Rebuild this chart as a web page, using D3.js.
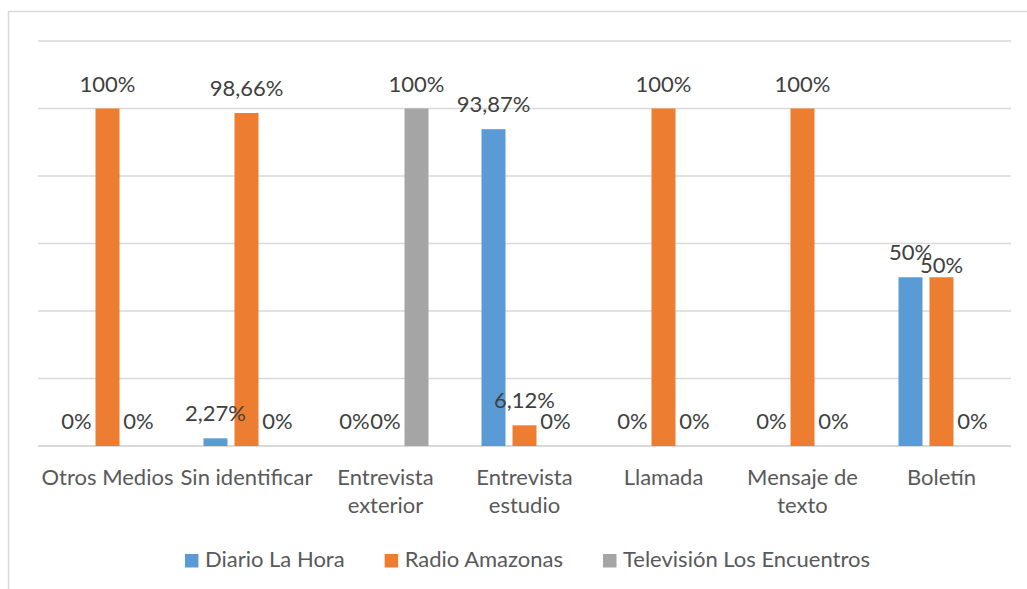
<!DOCTYPE html>
<html lang="es">
<head>
    <meta charset="UTF-8">
    <title>Medios por tipo de fuente</title>
    <script src="https://d3js.org/d3.v7.min.js"></script>
    <style>
        body {
            margin: 0;
            padding: 0;
            background-color: #ffffff;
            font-family: Lato, "Open Sans", sans-serif;
        }
        svg text {
            font-family: Lato, "Open Sans", sans-serif;
        }
    </style>
</head>
<body>
    <svg id="chart" width="1027" height="589"></svg>

    <script>
        // chart data
        const categories = ["Otros Medios", "Sin identificar", "Entrevista exterior", "Entrevista estudio", "Llamada", "Mensaje de texto", "Boletín"];
        const tickLabels = [["Otros Medios"], ["Sin identificar"], ["Entrevista", "exterior"], ["Entrevista", "estudio"], ["Llamada"], ["Mensaje de", "texto"], ["Boletín"]];
        const seriesNames = ["Diario La Hora", "Radio Amazonas", "Televisión Los Encuentros"];
        const diarioLaHora = [0, 2.27, 0, 93.87, 0, 0, 50];
        const radioAmazonas = [100, 98.66, 0, 6.12, 100, 100, 50];
        const televisionEncuentros = [0, 0, 100, 0, 0, 0, 0];
        const valueLabels = [
            ["0%", "2,27%", "0%", "93,87%", "0%", "0%", "50%"],
            ["100%", "98,66%", "0%", "6,12%", "100%", "100%", "50%"],
            ["0%", "0%", "100%", "0%", "0%", "0%", "0%"]
        ];
        const yTicks = [0, 20, 40, 60, 80, 100, 120];

        const colors = ["#5b9bd5", "#ed7d31", "#a5a5a5"];
        const seriesValues = [diarioLaHora, radioAmazonas, televisionEncuentros];

        const svg = d3.select("#chart");
        const plot = { left: 38, right: 1011, top: 41, bottom: 446 };
        const fontSize = "22px";

        // outer chart frame (cut off on the right and bottom)
        svg.append("rect")
            .attr("x", 8.5).attr("y", 11.5)
            .attr("width", 1100).attr("height", 700)
            .attr("fill", "none")
            .attr("stroke", "#d9d9d9")
            .attr("stroke-width", 1.5);

        const x0 = d3.scaleBand()
            .domain(categories)
            .range([plot.left, plot.right]);

        const y = d3.scaleLinear()
            .domain([0, 120])
            .range([plot.bottom, plot.top]);

        // bars sit inside a 93px wide group centred on each category
        const groupWidth = 93;
        const x1 = d3.scaleBand()
            .domain(seriesNames)
            .range([0, groupWidth])
            .paddingInner(0.226)
            .paddingOuter(0.113);

        // gridlines
        svg.append("g")
            .selectAll("line")
            .data(yTicks)
            .join("line")
            .attr("x1", plot.left)
            .attr("x2", plot.right)
            .attr("y1", d => y(d))
            .attr("y2", d => y(d))
            .attr("stroke", "#d9d9d9")
            .attr("stroke-width", d => d === 0 ? 2 : 1.5);

        const cx = c => x0(c) + x0.bandwidth() / 2 - groupWidth / 2;

        // bars
        const rows = [];
        categories.forEach((c, i) => {
            seriesNames.forEach((s, j) => {
                rows.push({ cat: c, series: s, si: j, ci: i, value: seriesValues[j][i], label: valueLabels[j][i] });
            });
        });

        svg.append("g")
            .selectAll("rect")
            .data(rows.filter(d => d.value > 0))
            .join("rect")
            .attr("x", d => cx(d.cat) + x1(d.series))
            .attr("y", d => y(d.value))
            .attr("width", x1.bandwidth())
            .attr("height", d => y(0) - y(d.value))
            .attr("fill", d => colors[d.si]);

        // data labels (Excel nudged the second Boletín label down to avoid overlap)
        const nudge = (d) => (d.cat === "Boletín" && d.si === 1) ? 13 : 0;

        svg.append("g")
            .selectAll("text")
            .data(rows)
            .join("text")
            .attr("x", d => cx(d.cat) + x1(d.series) + x1.bandwidth() / 2)
            .attr("y", d => y(d.value) - 17 + nudge(d))
            .attr("text-anchor", "middle")
            .attr("fill", "#404040")
            .style("font-size", fontSize)
            .text(d => d.label);

        // category labels
        const catLabels = svg.append("g")
            .selectAll("text")
            .data(categories)
            .join("text")
            .attr("x", d => x0(d) + x0.bandwidth() / 2)
            .attr("y", 485)
            .attr("text-anchor", "middle")
            .attr("fill", "#595959")
            .style("font-size", fontSize);

        catLabels.each(function (d, i) {
            const t = d3.select(this);
            tickLabels[i].forEach((line, k) => {
                t.append("tspan")
                    .attr("x", x0(d) + x0.bandwidth() / 2)
                    .attr("dy", k === 0 ? 0 : 28)
                    .text(line);
            });
        });

        // legend
        const legend = svg.append("g");
        let lx = 0;
        seriesNames.forEach((s, j) => {
            const item = legend.append("g").attr("transform", `translate(${lx},0)`);
            item.append("rect")
                .attr("x", 0).attr("y", 554)
                .attr("width", 13.5).attr("height", 13.5)
                .attr("fill", colors[j]);
            const txt = item.append("text")
                .attr("x", 20)
                .attr("y", 567)
                .attr("fill", "#595959")
                .style("font-size", fontSize)
                .text(s);
            lx += 20 + txt.node().getComputedTextLength() + 40;
        });
        const legendWidth = lx - 40;
        legend.attr("transform", `translate(${527.5 - legendWidth / 2},0)`);
    </script>
</body>
</html>
